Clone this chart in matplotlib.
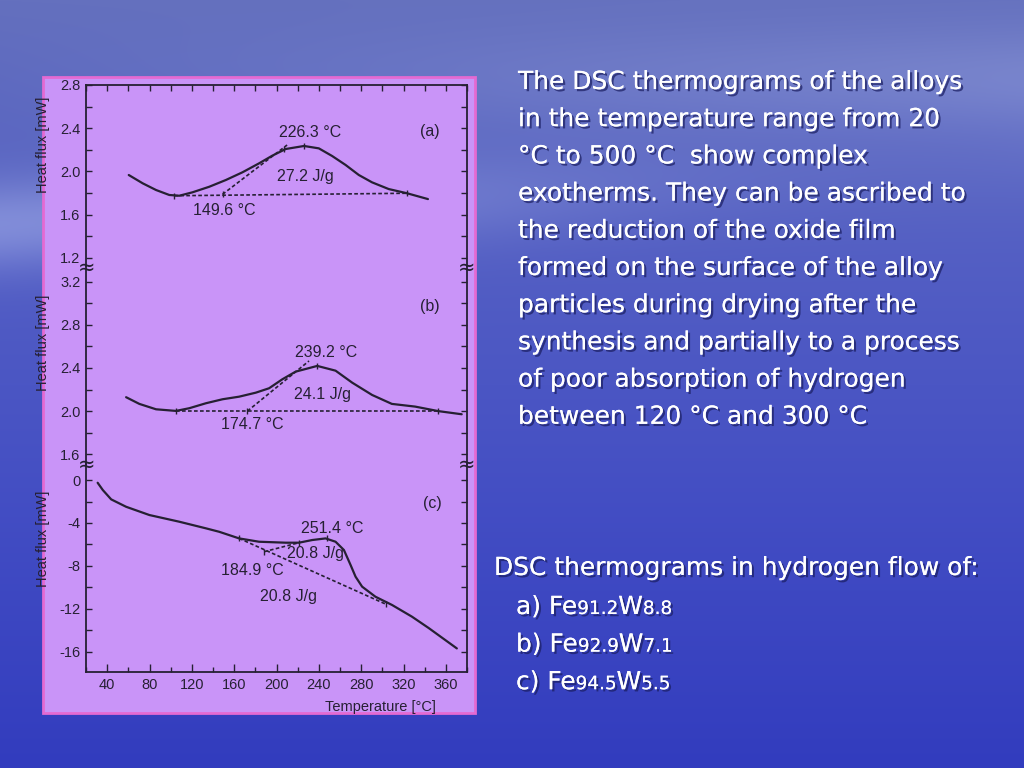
import numpy as np
import matplotlib
matplotlib.use('Agg')
import matplotlib.pyplot as plt
from matplotlib.patches import Rectangle
from matplotlib.ticker import MultipleLocator
import matplotlib.patheffects as pe

plt.rcParams['font.family'] = ['Liberation Sans', 'DejaVu Sans']

# (a) Fe91.2W8.8
a_temp = [60.4, 73.6, 86.2, 98.7, 108.1, 120.7, 136.4, 152.2, 167.8, 183.5, 196.0,
          208.7, 226.0, 240.0, 252.6, 265.3, 277.8, 290.3, 306.0, 323.3, 343.1]
a_flux = [1.966, 1.889, 1.827, 1.781, 1.774, 1.806, 1.857, 1.920, 1.991, 2.074, 2.145,
          2.207, 2.235, 2.213, 2.142, 2.059, 1.966, 1.898, 1.836, 1.797, 1.743]
a_base_t = [103.4, 323.3]
a_base_f = [1.774, 1.797]
a_tan_t = [149.0, 210.0]
a_tan_f = [1.787, 2.244]
a_mark_t = [103.4, 149.0, 207.0, 226.0, 323.3]
a_mark_f = [1.774, 1.787, 2.205, 2.235, 1.797]
a_notes = [("226.3 °C", 232, 2.36), ("27.2 J/g", 227, 1.95), ("149.6 °C", 150.5, 1.64)]

# (b) Fe92.9W7.1
b_temp = [57.9, 70.4, 86.2, 105.0, 117.6, 133.3, 149.0, 164.7, 180.4, 193.0, 205.5,
          218.1, 238.5, 255.8, 271.5, 290.3, 309.0, 331.0, 353.0, 375.0]
b_flux = [2.129, 2.067, 2.017, 2.002, 2.027, 2.073, 2.110, 2.134, 2.171, 2.212, 2.295,
          2.366, 2.419, 2.375, 2.264, 2.150, 2.067, 2.042, 2.000, 1.971]
b_base_t = [105.0, 353.0]
b_base_f = [2.0, 2.0]
b_tan_t = [172.5, 230.7]
b_tan_f = [2.0, 2.465]
b_mark_t = [105.0, 172.5, 238.5, 353.0]
b_mark_f = [2.0, 2.0, 2.419, 2.0]
b_notes = [("239.2 °C", 247, 2.542), ("24.1 J/g", 243, 2.15), ("174.7 °C", 177, 1.872)]

# (c) Fe94.5W5.5
c_temp = [31.0, 35.9, 43.8, 57.9, 79.9, 108.0, 133.3, 145.8, 164.7, 183.5, 208.7,
          221.2, 233.8, 246.4, 255.8, 263.7, 270.0, 274.7, 280.9, 293.5, 309.2, 328.0,
          343.8, 370.4]
c_flux = [-0.25, -0.93, -1.8, -2.49, -3.26, -3.88, -4.5, -4.82, -5.44, -5.75, -5.84,
          -5.84, -5.59, -5.44, -5.75, -6.52, -7.92, -9.01, -9.94, -10.88, -11.65, -12.74,
          -13.8, -15.7]
c_base_t = [164.7, 303.0]
c_base_f = [-5.44, -11.56]
c_tan_t = [188.3, 221.2]
c_tan_f = [-6.68, -5.84]
c_mark_t = [164.7, 188.3, 221.2, 248.0, 303.0]
c_mark_f = [-5.44, -6.68, -5.84, -5.44, -11.56]
c_notes = [("251.4 °C", 252.6, -4.5), ("20.8 J/g", 237, -6.83),
           ("184.9 °C", 177.2, -8.39), ("20.8 J/g", 211.8, -10.88)]

panels = [
    ("(a)", a_temp, a_flux, a_base_t, a_base_f, a_tan_t, a_tan_f, a_mark_t, a_mark_f, a_notes),
    ("(b)", b_temp, b_flux, b_base_t, b_base_f, b_tan_t, b_tan_f, b_mark_t, b_mark_f, b_notes),
    ("(c)", c_temp, c_flux, c_base_t, c_base_f, c_tan_t, c_tan_f, c_mark_t, c_mark_f, c_notes),
]
ylims = [(1.123, 2.8), (1.51, 3.345), (-17.9, 1.5)]
ysteps = [(0.4, 0.2), (0.4, 0.2), (4, 2)]
tag_pos = [(345, 2.37), (345, 2.97), (347, -2.17)]
label_y = [0.668, 0.611, 0.64]
# axes boxes in pixels (top, bottom)
boxes = [(85, 266), (266, 464), (464, 672)]

main_text = [
    "The DSC thermograms of the alloys",
    "in the temperature range from 20",
    "°C to 500 °C  show complex",
    "exotherms. They can be ascribed to",
    "the reduction of the oxide film",
    "formed on the surface of the alloy",
    "particles during drying after the",
    "synthesis and partially to a process",
    "of poor absorption of hydrogen",
    "between 120 °C and 300 °C",
]
caption_title = "DSC thermograms in hydrogen flow of:"
caption_items = [
    [("a) Fe", 1), ("91.2", 0), ("W", 1), ("8.8", 0)],
    [("b) Fe", 1), ("92.9", 0), ("W", 1), ("7.1", 0)],
    [("c) Fe", 1), ("94.5", 0), ("W", 1), ("5.5", 0)],
]

W, H = 1024, 768
fig = plt.figure(figsize=(W / 100, H / 100), dpi=100)

# slide background
bg = fig.add_axes([0, 0, 1, 1], zorder=-10)
yy, xx = np.mgrid[0:H, 0:W]
yf = yy / H
xf = xx / W
r = 100 - 50 * yf
g = 112 - 52 * yf
b = 190 + 6 * np.sin(np.pi * yf)
cloud = 45 * np.exp(-((yy - 225 + 60 * xf) / 45.0) ** 2) * (0.55 + 0.45 * np.cos(3 * xf + 0.4))
cloud += 25 * np.exp(-((yy - 80) / 55.0) ** 2) * xf
img = np.dstack([r + cloud, g + cloud, b + 0.5 * cloud])
bg.imshow(np.clip(img, 0, 255).astype(np.uint8), aspect='auto', extent=[0, W, H, 0])
bg.set_xlim(0, W)
bg.set_ylim(H, 0)
bg.axis('off')

# lilac picture panel
fig.patches.append(Rectangle((43 / W, 1 - 713 / H), 432 / W, 636 / H, transform=fig.transFigure,
                             facecolor='#c994f8', edgecolor='#e46ad2', linewidth=2, zorder=-5))

ink = '#262033'
left = 86 / W
width = 381 / W
for i, (tag, t, f, bt, bf, tt, tf, mt, mf, notes) in enumerate(panels):
    top, bot = boxes[i]
    ax = fig.add_axes([left, 1 - bot / H, width, (bot - top) / H])
    ax.set_facecolor('none')
    ax.set_xlim(20, 380)
    ax.set_ylim(*ylims[i])
    ax.plot(t, f, color=ink, lw=1.6, solid_capstyle='round', solid_joinstyle='round')
    ax.plot(bt, bf, color=ink, lw=1.2, ls=(0, (2.2, 1.4)))
    ax.plot(tt, tf, color=ink, lw=1.2, ls=(0, (2.2, 1.4)))
    ax.plot(mt, mf, ls='none', marker='|', ms=5, mew=1, color=ink)
    for txt, x, y in notes:
        ax.text(x, y, txt, ha='center', va='center', fontsize=11.5, color=ink)
    ax.text(tag_pos[i][0], tag_pos[i][1], tag, ha='center', va='center', fontsize=11.5, color=ink)

    ax.yaxis.set_major_locator(MultipleLocator(ysteps[i][0]))
    ax.yaxis.set_minor_locator(MultipleLocator(ysteps[i][1]))
    ax.xaxis.set_major_locator(MultipleLocator(40))
    ax.xaxis.set_minor_locator(MultipleLocator(20))
    fmt = "{:.0f}" if i == 2 else "{:.1f}"
    ax.yaxis.set_major_formatter(plt.FuncFormatter(lambda v, p, fmt=fmt: fmt.format(v)))
    ax.tick_params(axis='y', which='both', direction='in', left=True, right=True,
                   length=4.5, width=1, color=ink, labelsize=10.5, labelcolor=ink, pad=4)
    for s in ax.spines.values():
        s.set_color(ink)
        s.set_linewidth(1.3)
    if i == 0:
        ax.spines['bottom'].set_visible(False)
        ax.tick_params(axis='x', which='both', direction='in', top=True, bottom=False,
                       labelbottom=False, length=4.5, width=1, color=ink)
    elif i == 1:
        ax.spines['bottom'].set_visible(False)
        ax.spines['top'].set_visible(False)
        ax.tick_params(axis='x', which='both', top=False, bottom=False, labelbottom=False)
    else:
        ax.spines['top'].set_visible(False)
        ax.tick_params(axis='x', which='major', direction='in', length=5.5, width=1, color=ink,
                       labelsize=10.5, labelcolor=ink, pad=4)
        ax.tick_params(axis='x', which='minor', direction='in', length=3.5, width=1, color=ink)
        ax.set_xlabel('Temperature [°C]', fontsize=10.5, color=ink)
        ax.xaxis.set_label_coords(0.772, -0.135)
    ax.set_ylabel('Heat flux [mW]', fontsize=10.5, color=ink)
    ax.yaxis.set_label_coords(-0.0945, label_y[i])

# axis break marks
for yb in [268, 465]:
    for xb in [87, 467]:
        fig.text(xb / W, 1 - yb / H, '≈', ha='center', va='center', fontsize=15,
                 color=ink, family='DejaVu Sans')

# slide text
shadow = [pe.withSimplePatchShadow(offset=(1.6, -1.6), shadow_rgbFace='#1a1d60', alpha=0.7),
          pe.Normal()]
renderer = fig.canvas.get_renderer()
probe = fig.text(0, 0, main_text[0], fontsize=20, family='DejaVu Sans')
wpx = probe.get_window_extent(renderer).width
probe.remove()
size = 20 * 444 / wpx

for k, line in enumerate(main_text):
    fig.text(518 / W, 1 - (89 + 37.2 * k) / H, line, fontsize=size, color='white',
             family='DejaVu Sans', va='baseline', ha='left', path_effects=shadow)

fig.text(494 / W, 1 - 575 / H, caption_title, fontsize=size, color='white',
         family='DejaVu Sans', va='baseline', ha='left', path_effects=shadow)
for k, parts in enumerate(caption_items):
    x = 516
    for txt, big in parts:
        t = fig.text(x / W, 1 - (614 + 37.6 * k) / H, txt, fontsize=size if big else size * 0.74,
                     color='white', family='DejaVu Sans', va='baseline', ha='left',
                     path_effects=shadow)
        x += t.get_window_extent(renderer).width

fig.savefig('out.png', dpi=100)
